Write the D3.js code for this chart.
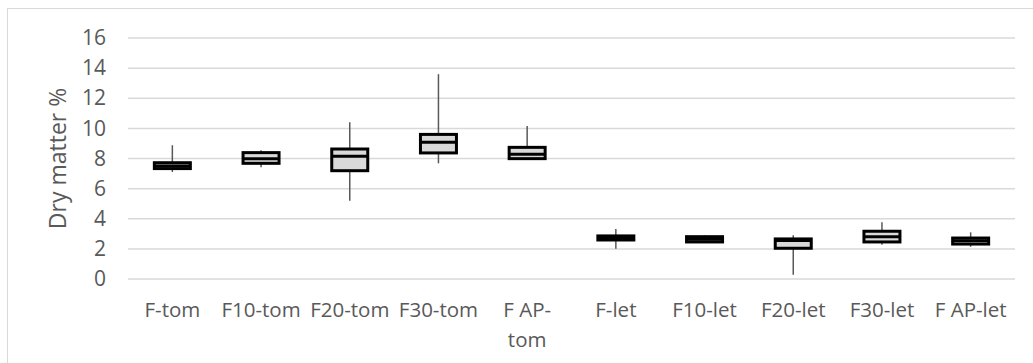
<!DOCTYPE html>
<html><head><meta charset="utf-8">
<script src="https://cdn.jsdelivr.net/npm/d3@7"></script>
<style>body{margin:0;background:#fff}svg{display:block;font-family:"Open Sans",sans-serif}</style>
</head><body><svg id="c" width="1033" height="363"></svg>
<script>
const categories = ["F-tom","F10-tom","F20-tom","F30-tom","F AP-tom","F-let","F10-let","F20-let","F30-let","F AP-let"];
const whiskerMin = [7.1, 7.42, 5.2, 7.68, 7.9, 2.01, 2.41, 0.29, 2.28, 2.14];
const q1 =         [7.33, 7.68, 7.19, 8.37, 7.99, 2.59, 2.46, 2.04, 2.46, 2.32];
const median =     [7.5, 7.99, 8.15, 9.08, 8.28, 2.72, 2.64, 2.55, 2.81, 2.54];
const q3 =         [7.72, 8.39, 8.63, 9.6, 8.74, 2.86, 2.81, 2.66, 3.17, 2.72];
const whiskerMax = [8.88, 8.54, 10.4, 13.6, 10.16, 3.32, 2.9, 2.9, 3.76, 3.1];
const yTicks = [0,2,4,6,8,10,12,14,16];

const svg = d3.select("#c");
const L = 128, R = 1015, T = 38, B = 279;
svg.append("rect").attr("x",7.5).attr("y",8.5).attr("width",1040).attr("height",400)
  .attr("fill","none").attr("stroke","#d9d9d9").attr("stroke-width",1);

const x = d3.scaleBand().domain(categories).range([L,R]);
const y = d3.scaleLinear().domain([0,16]).range([B,T]);

const grid = svg.append("g");
grid.selectAll("line").data(yTicks).join("line")
  .attr("x1",L).attr("x2",R).attr("y1",d=>y(d)).attr("y2",d=>y(d))
  .attr("stroke","#d9d9d9").attr("stroke-width",1.5);

const yAxis = svg.append("g").attr("transform",`translate(${L-22},0)`)
  .call(d3.axisLeft(y).tickValues(yTicks).tickSize(0).tickPadding(0));
yAxis.select(".domain").remove();
yAxis.selectAll("text").attr("fill","#595959").style("font-size","21px").style("font-family","Open Sans");

svg.append("text").attr("transform",`translate(66,${(T+B)/2}) rotate(-90)`)
  .attr("text-anchor","middle").attr("fill","#595959").style("font-size","23px").text("Dry matter %");

const xAxis = svg.append("g").attr("transform",`translate(0,${B})`)
  .call(d3.axisBottom(x).tickSize(0).tickPadding(0));
xAxis.select(".domain").remove();
xAxis.selectAll("text").remove();
xAxis.selectAll(".tick").each(function(d){
  const g = d3.select(this);
  const lines = d === "F AP-tom" ? ["F AP-","tom"] : [d];
  lines.forEach((s,i)=>{
    g.append("text").attr("y",38+i*30).attr("text-anchor","middle").attr("fill","#595959")
     .style("font-size","20.5px").style("font-family","Open Sans").text(s);
  });
});

const bw = 36;
const boxes = svg.append("g");
categories.forEach((c,i)=>{
  const cx = x(c) + x.bandwidth()/2;
  boxes.append("line").attr("x1",cx).attr("x2",cx).attr("y1",y(whiskerMin[i])).attr("y2",y(whiskerMax[i]))
    .attr("stroke","#595959").attr("stroke-width",1.5);
  boxes.append("rect").attr("x",cx-bw/2).attr("width",bw)
    .attr("y",y(q3[i])).attr("height",y(q1[i])-y(q3[i]))
    .attr("fill","#d9d9d9").attr("stroke","#000").attr("stroke-width",3);
  boxes.append("line").attr("x1",cx-bw/2).attr("x2",cx+bw/2).attr("y1",y(median[i])).attr("y2",y(median[i]))
    .attr("stroke","#000").attr("stroke-width",3);
});
</script></body></html>
